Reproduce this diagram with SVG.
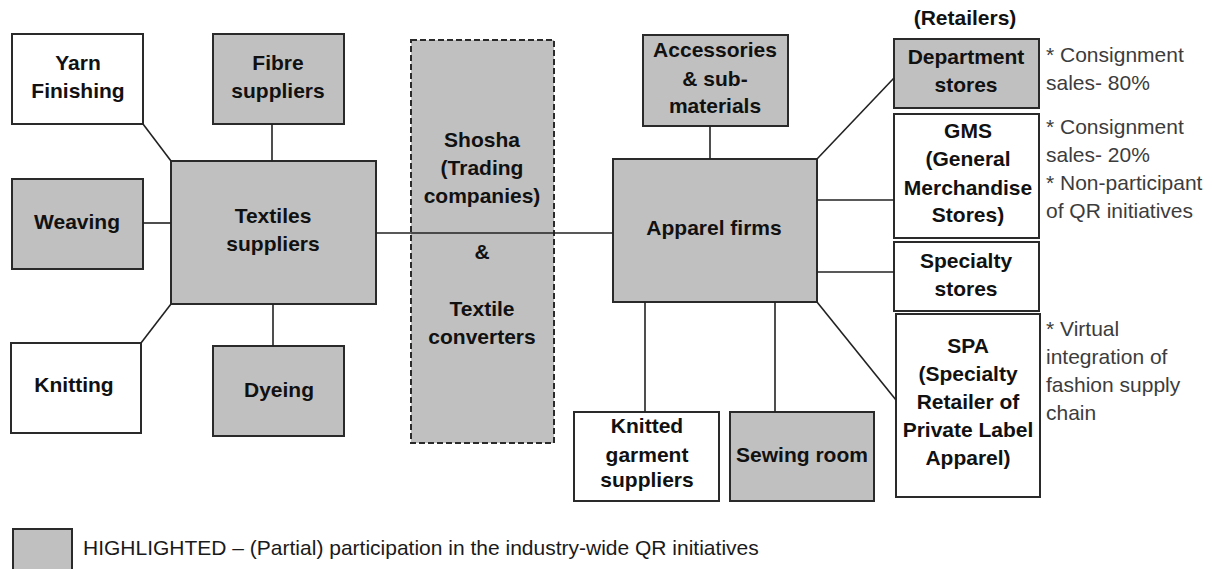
<svg xmlns="http://www.w3.org/2000/svg" width="1213" height="569" viewBox="0 0 1213 569">
<style>
.box{stroke:#2a2a2a;stroke-width:2}
.g{fill:#c0c0c0}
.w{fill:#ffffff}
.dash{fill:#c0c0c0;stroke:#2a2a2a;stroke-width:2;stroke-dasharray:6 3}
.lbl{font-family:"Liberation Sans",Arial,sans-serif;font-weight:bold;font-size:21px;fill:#111;text-anchor:middle}
.note{font-family:"Liberation Sans",Arial,sans-serif;font-size:21px;fill:#3c3c3c}
.leg{font-family:"Liberation Sans",Arial,sans-serif;font-size:21px;fill:#1a1a1a}
.con line{stroke:#222;stroke-width:1.6}
</style>
<rect width="1213" height="569" fill="#ffffff"/>
<g id="yarn-finishing"><rect class="box w" x="12" y="34" width="131" height="90"/><text class="lbl" x="78" y="70">Yarn</text><text class="lbl" x="78" y="98">Finishing</text></g>
<g id="fibre-suppliers"><rect class="box g" x="213" y="34" width="131" height="90"/><text class="lbl" x="278" y="70">Fibre</text><text class="lbl" x="278" y="98">suppliers</text></g>
<g id="weaving"><rect class="box g" x="12" y="179" width="131" height="90"/><text class="lbl" x="77" y="229">Weaving</text></g>
<g id="textiles-suppliers"><rect class="box g" x="171" y="161" width="205" height="143"/><text class="lbl" x="273" y="223">Textiles</text><text class="lbl" x="273" y="251">suppliers</text></g>
<g id="knitting"><rect class="box w" x="11" y="343" width="130" height="90"/><text class="lbl" x="74" y="392">Knitting</text></g>
<g id="dyeing"><rect class="box g" x="213" y="346" width="131" height="90"/><text class="lbl" x="279" y="397">Dyeing</text></g>
<g id="shosha"><rect class="dash" x="411" y="40" width="143" height="403"/><text class="lbl" x="482" y="147">Shosha</text><text class="lbl" x="482" y="175">(Trading</text><text class="lbl" x="482" y="203">companies)</text><text class="lbl" x="482" y="259">&amp;</text><text class="lbl" x="482" y="316">Textile</text><text class="lbl" x="482" y="344">converters</text></g>
<g id="accessories"><rect class="box g" x="643" y="35" width="145" height="91"/><text class="lbl" x="715" y="57">Accessories</text><text class="lbl" x="715" y="86">&amp; sub-</text><text class="lbl" x="715" y="113">materials</text></g>
<g id="apparel-firms"><rect class="box g" x="613" y="159" width="204" height="143"/><text class="lbl" x="714" y="235">Apparel firms</text></g>
<g id="knitted-garment-suppliers"><rect class="box w" x="574" y="412" width="145" height="89"/><text class="lbl" x="647" y="433">Knitted</text><text class="lbl" x="647" y="462">garment</text><text class="lbl" x="647" y="487">suppliers</text></g>
<g id="sewing-room"><rect class="box g" x="730" y="412" width="144" height="89"/><text class="lbl" x="802" y="462">Sewing room</text></g>
<g id="retailers-title"><text class="lbl" x="965" y="25">(Retailers)</text></g>
<g id="department-stores"><rect class="box g" x="894" y="39" width="145" height="69"/><text class="lbl" x="966" y="64">Department</text><text class="lbl" x="966" y="92">stores</text></g>
<g id="gms"><rect class="box w" x="894" y="114" width="145" height="124"/><text class="lbl" x="968" y="138">GMS</text><text class="lbl" x="968" y="166">(General</text><text class="lbl" x="968" y="195">Merchandise</text><text class="lbl" x="968" y="222">Stores)</text></g>
<g id="specialty-stores"><rect class="box w" x="894" y="242" width="145" height="69"/><text class="lbl" x="966" y="268">Specialty</text><text class="lbl" x="966" y="296">stores</text></g>
<g id="spa"><rect class="box w" x="896" y="314" width="144" height="183"/><text class="lbl" x="968" y="353">SPA</text><text class="lbl" x="968" y="381">(Specialty</text><text class="lbl" x="968" y="409">Retailer of</text><text class="lbl" x="968" y="437">Private Label</text><text class="lbl" x="968" y="465">Apparel)</text></g>
<g id="notes">
<text class="note" x="1046" y="62">* Consignment</text><text class="note" x="1046" y="90">sales- 80%</text>
<text class="note" x="1046" y="134">* Consignment</text><text class="note" x="1046" y="162">sales- 20%</text><text class="note" x="1046" y="190">* Non-participant</text><text class="note" x="1046" y="218">of QR initiatives</text>
<text class="note" x="1046" y="336">* Virtual</text><text class="note" x="1046" y="364">integration of</text><text class="note" x="1046" y="392">fashion supply</text><text class="note" x="1046" y="420">chain</text>
</g>
<g id="connectors" class="con">
<line x1="143" y1="124" x2="171" y2="161"/>
<line x1="272" y1="124" x2="272" y2="161"/>
<line x1="143" y1="223" x2="171" y2="223"/>
<line x1="141" y1="343" x2="171" y2="304"/>
<line x1="273" y1="304" x2="273" y2="346"/>
<line x1="376" y1="233" x2="613" y2="233"/>
<line x1="710" y1="126" x2="710" y2="159"/>
<line x1="645" y1="302" x2="645" y2="412"/>
<line x1="775" y1="302" x2="775" y2="412"/>
<line x1="817" y1="159" x2="894" y2="78"/>
<line x1="817" y1="200" x2="894" y2="200"/>
<line x1="817" y1="272" x2="894" y2="272"/>
<line x1="817" y1="302" x2="896" y2="400"/>
</g>
<g id="legend"><rect class="box g" x="13" y="529" width="59" height="42"/><text class="leg" x="83" y="555">HIGHLIGHTED – (Partial) participation in the industry-wide QR initiatives</text></g>
</svg>
